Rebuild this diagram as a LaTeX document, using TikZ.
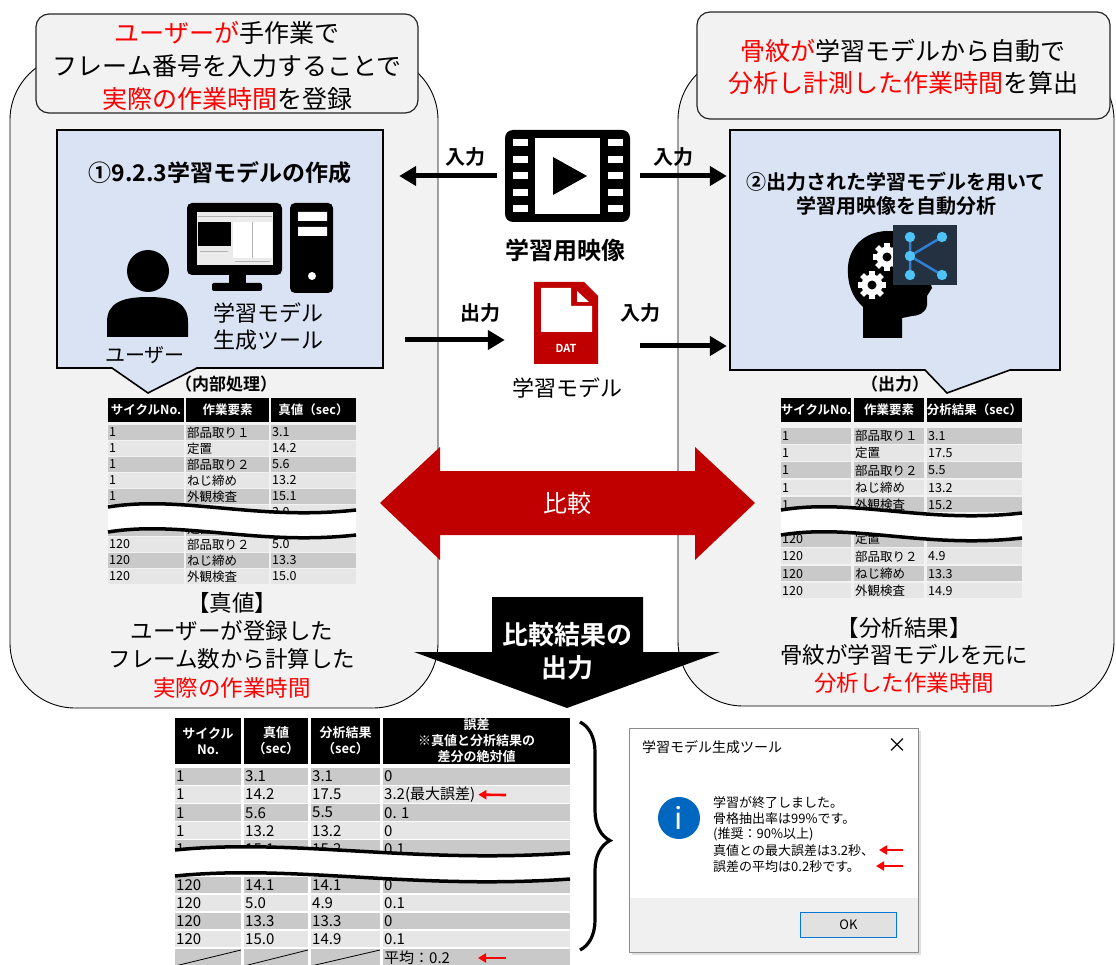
\documentclass[tikz,border=0pt]{standalone}
\usepackage{fontspec}
\setmainfont{Noto Sans CJK JP}[BoldFont={Noto Sans CJK JP Bold}]
\usetikzlibrary{arrows.meta,decorations.pathreplacing}

\definecolor{panelgray}{HTML}{F2F2F2}
\definecolor{boxblue}{HTML}{DAE3F3}
\definecolor{darkred}{HTML}{C00000}
\definecolor{rowdk}{HTML}{C9C9C9}
\definecolor{rowlt}{HTML}{E6E6E6}
\definecolor{infoblue}{HTML}{0067C0}
\definecolor{okblue}{HTML}{0078D7}
\definecolor{btngray}{HTML}{E1E1E1}
\definecolor{dlggray}{HTML}{F0F0F0}
\definecolor{kbg}{HTML}{243140}
\definecolor{kdot}{HTML}{4FC3F7}
\definecolor{kline}{HTML}{2F80D0}

\newcommand{\fsz}[1]{\fontsize{#1}{#1}\selectfont}
% white break across a long table, wavy edges
\newcommand{\wavecut}[4]{%
  \fill[white] (#1,#3) .. controls ({#1+0.3*(#2-#1)},{#3-12}) and ({#1+0.6*(#2-#1)},{#3+14}) .. (#2,{#3+3})
    -- (#2,{#3+3+#4}) .. controls ({#1+0.6*(#2-#1)},{#3+14+#4}) and ({#1+0.3*(#2-#1)},{#3-12+#4}) .. (#1,{#3+#4}) -- cycle;
  \draw[line width=3.5pt] (#1,#3) .. controls ({#1+0.3*(#2-#1)},{#3-12}) and ({#1+0.6*(#2-#1)},{#3+14}) .. (#2,{#3+3});
  \draw[line width=3.5pt] (#1,{#3+#4}) .. controls ({#1+0.3*(#2-#1)},{#3-12+#4}) and ({#1+0.6*(#2-#1)},{#3+14+#4}) .. (#2,{#3+3+#4});
}
% gear inside the head
\newcommand{\gear}[2]{%
  \foreach \a in {0,45,90,135}
    \fill[white, rotate around={\a:(#1,#2)}] ({#1-2.8},{#2-14}) rectangle ({#1+2.8},{#2+14});
  \fill[white] (#1,#2) circle (10.5);
  \fill[black] (#1,#2) circle (4.5);
}

\begin{document}
\begin{tikzpicture}[x=1pt, y=-1pt,
  panel/.style={draw=black, line width=0.9pt, fill=panelgray, rounded corners=65pt},
  callout/.style={draw=black!85, line width=1.2pt, fill=panelgray, rounded corners=13pt},
  bluebox/.style={draw=black, line width=1.6pt, fill=boxblue},
  flow/.style={line width=5pt, -{Triangle[length=17pt,width=19pt]}},
  redptr/.style={red, line width=2.6pt, -{Triangle[length=8pt,width=9pt]}},
  txt/.style={inner sep=0pt, align=center},
  hdrcell/.style={fill=black, text=white, inner sep=0pt, align=center},
  cell/.style={anchor=west, inner sep=0pt, font=\fsz{12.5}},
  bcell/.style={anchor=west, inner sep=0pt, font=\fsz{15}},
]
\useasboundingbox (0,0) rectangle (1116,965);
\fill[white] (0,0) rectangle (1116,965);

% Gray panels
\draw[panel] (10,55) rectangle (438,708);
\draw[panel] (678,55) rectangle (1114,706);

% Callouts
\draw[callout] (36,14) rectangle (418,113);
\node[txt, font=\fontsize{25}{33}\selectfont] (noteL) at (227,66)
  {\textcolor{red}{ユーザーが}手作業で\\フレーム番号を入力することで\\\textcolor{red}{実際の作業時間}を登録};
\draw[callout] (697,12) rectangle (1110,119);
\node[txt, font=\fontsize{25}{32}\selectfont] (noteR) at (903,67)
  {\textcolor{red}{骨紋が}学習モデルから自動で\\\textcolor{red}{分析し計測した作業時間}を算出};

% Blue boxes with tails
\draw[bluebox] (57,130) -- (383,130) -- (383,368) -- (197,368) -- (148,393) -- (112,368) -- (57,368) -- cycle;
\node[inner sep=0, minimum width=326, minimum height=238] (box1) at (220,249) {};
\draw[bluebox] (730,130) -- (1060,130) -- (1060,370) -- (1010,370) -- (947,393) -- (925,370) -- (730,370) -- cycle;
\node[inner sep=0, minimum width=330, minimum height=240] (box2) at (895,250) {};

\node[txt, font=\bfseries\fsz{23}] (title1) at (220,173) {①9.2.3学習モデルの作成};
\node[txt, font=\bfseries\fontsize{20}{24}\selectfont] (title2) at (896,194)
  {②出力された学習モデルを用いて\\学習用映像を自動分析};

% Monitor and tower
\fill[rounded corners=5pt] (187,203) rectangle (282,275);
\fill[black!8] (197,212) rectangle (273,265);
\fill (198,222) rectangle (231,246);
\fill[white] (233,222) rectangle (272,258);
\draw[gray!60, line width=0.4pt] (198,216) -- (272,216) (252,222) -- (252,258) (200,251) -- (228,251) (235,261) -- (270,261);
\fill (229,274) rectangle (246,284);
\fill[rounded corners=2pt] (212,283) rectangle (262,291);
\fill[rounded corners=5pt] (290,203) rectangle (333,293);
\fill[white] (298,212) rectangle (327,221) (298,227) rectangle (327,236);
\fill[white] (312,276) circle (4);

% User
\fill (148,271) circle (21);
\fill (107,337) -- (107,322) .. controls (107,303) and (122,297) .. (148,297)
  .. controls (174,297) and (188,303) .. (188,322) -- (188,337) -- cycle;
\node[txt, font=\fsz{20}] (user) at (145,355) {ユーザー};
\node[txt, font=\fontsize{22}{27}\selectfont] (tool) at (268,327) {学習モデル\\生成ツール};

% Head with gears and graph tile
\fill (863,338) -- (863,307) .. controls (852,297) and (847,284) .. (848,266)
  .. controls (850,245) and (866,232) .. (886,231) .. controls (910,230) and (926,246) .. (926,268)
  -- (932,288) -- (927,296) -- (927,305) .. controls (926,313) and (918,316) .. (912,316)
  -- (902,318) -- (902,338) -- cycle;
\gear{887}{257}
\gear{872}{285}
\fill[kbg] (893,225) rectangle (957,285);
\draw[kline, line width=2.5pt] (910,237) -- (910,275) (910,256) -- (942,237) (910,256) -- (942,275);
\foreach \px/\py in {910/237, 942/237, 910/256, 910/275, 942/275}
  \fill[kdot] (\px,\py) circle (5.2);

% Video icon
\fill[rounded corners=8pt] (505,130) rectangle (630,222);
\fill[white] (535,138) rectangle (600,214);
\foreach \y in {143,159.5,176,192.5,209}{
  \fill[white] (513,\y-3.5) rectangle (528,\y+3.5);
  \fill[white] (608,\y-3.5) rectangle (623,\y+3.5);
}
\fill (553,157) -- (553,195) -- (587,176) -- cycle;
\node[inner sep=0, minimum width=125, minimum height=92] (film) at (567.5,176) {};
\node[txt, font=\bfseries\fsz{24}] (filmlbl) at (565,250) {学習用映像};

% Model file icon
\fill[darkred] (534,282) -- (584,282) -- (598,296) -- (598,364) -- (534,364) -- cycle;
\fill[white] (541,288) -- (571,288) -- (571,306) -- (592,306) -- (592,332) -- (541,332) -- cycle;
\fill[white] (577,291) -- (577,302) -- (589,302) -- cycle;
\node[text=white, font=\bfseries\fsz{11}, inner sep=0] (dattag) at (566,348) {DAT};
\node[inner sep=0, minimum width=64, minimum height=82] (datfile) at (566,323) {};
\node[txt, font=\fsz{22}] (datlbl) at (567,388) {学習モデル};

% Flows between boxes
\coordinate (m1) at (0,340);
\coordinate (m2) at (0,346);
\draw[flow, shorten <=8pt, shorten >=16pt] (film.west) -- (film.west -| box1.east);
\draw[flow, shorten <=10pt, shorten >=3pt] (film.east) -- (film.east -| box2.west);
\draw[flow, shorten <=22pt, shorten >=29pt] (box1.east |- m1) -- (datfile.west |- m1);
\draw[flow, shorten <=42pt, shorten >=3pt] (datfile.east |- m2) -- (box2.west |- m2);
\node[txt, font=\bfseries\fsz{20}] (in1) at (465,157) {入力};
\node[txt, font=\bfseries\fsz{20}] (in2) at (673,157) {入力};
\node[txt, font=\bfseries\fsz{20}] (out1) at (480,313) {出力};
\node[txt, font=\bfseries\fsz{20}] (in3) at (640,313) {入力};

% Table: true values
\node[txt, font=\bfseries\fsz{17}] (capL) at (226,384) {（内部処理）};
\foreach \xa/\xb/\t [count=\c] in {108/184/サイクルNo., 186/269/作業要素, 271/356/真値（sec）}
  \node[hdrcell, font=\bfseries\fsz{12.5}, minimum width=\xb-\xa, minimum height=24] (lh\c) at ({(\xa+\xb)/2},410) {\t};
\foreach \k in {0,...,9}{
  \ifodd\k\relax \def\rc{rowlt}\else\def\rc{rowdk}\fi
  \foreach \xa/\xb in {108/184, 186/269, 271/356}
    \fill[\rc] (\xa,425+16*\k) rectangle (\xb,439.5+16*\k);
}
\foreach \k/\a/\b/\v in {0/1/部品取り１/3.1, 1/1/定置/14.2, 2/1/部品取り２/5.6, 3/1/ねじ締め/13.2,
    4/1/外観検査/15.1, 5/{}/{}/3.0, 6/{}/定置/{}, 7/120/部品取り２/5.0, 8/120/ねじ締め/13.3, 9/120/外観検査/15.0}{
  \node[cell] (la\k) at (109,432.5+16*\k) {\a};
  \node[cell] (lb\k) at (187,432.5+16*\k) {\b};
  \node[cell] (lc\k) at (272,432.5+16*\k) {\v};
}
\wavecut{108}{356}{507}{25}

% Table: analysis output
\node[txt, font=\bfseries\fsz{17}] (capR) at (895,384) {（出力）};
\foreach \xa/\xb/\t [count=\c] in {781/851/サイクルNo., 854/924/作業要素, 927/1022/分析結果（sec）}
  \node[hdrcell, font=\bfseries\fsz{12.5}, minimum width=\xb-\xa, minimum height=24] (rh\c) at ({(\xa+\xb)/2},410) {\t};
\foreach \k in {0,...,9}{
  \ifodd\k\relax \def\rc{rowlt}\else\def\rc{rowdk}\fi
  \foreach \xa/\xb in {781/851, 854/924, 927/1022}
    \fill[\rc] (\xa,428+17.2*\k) rectangle (\xb,443.5+17.2*\k);
}
\foreach \k/\a/\b/\v in {0/1/部品取り１/3.1, 1/1/定置/17.5, 2/1/部品取り２/5.5, 3/1/ねじ締め/13.2,
    4/1/外観検査/15.2, 5/{}/{}/3.0, 6/120/定置/{}, 7/120/部品取り２/4.9, 8/120/ねじ締め/13.3, 9/120/外観検査/14.9}{
  \node[cell] (ra\k) at (782,436+17.2*\k) {\a};
  \node[cell] (rb\k) at (855,436+17.2*\k) {\b};
  \node[cell] (rc\k) at (928,436+17.2*\k) {\v};
}
\wavecut{781}{1022}{510}{25}

% Captions under the tables
\node[txt, font=\fontsize{22.5}{28.3}\selectfont] (sumL) at (232,645)
  {【真値】\\ユーザーが登録した\\フレーム数から計算した\\\textcolor{red}{実際の作業時間}};
\node[txt, font=\fontsize{22.5}{27.5}\selectfont] (sumR) at (904,655)
  {【分析結果】\\骨紋が学習モデルを元に\\\textcolor{red}{分析した作業時間}};

% Comparison arrow
\fill[darkred] (380,503) -- (440,447) -- (440,471) -- (695,471) -- (695,447) -- (755,503)
  -- (695,560) -- (695,535) -- (440,535) -- (440,560) -- cycle;
\node[txt, text=white, font=\fsz{24}] (cmp) at (567,503) {比較};

% Result arrow
\fill (492,597) -- (643,597) -- (643,652) -- (720,652) -- (567,708) -- (414,652) -- (492,652) -- cycle;
\node[txt, text=white, font=\bfseries\fontsize{26}{33}\selectfont] (cmpout) at (567,651) {比較結果の\\出力};

% Table: error per element
\foreach \xa/\xb/\t [count=\c] in {175/241/サイクル\\No., 244/308/真値\\（sec）, 311/380/分析結果\\（sec）,
    383/570/誤差\\※真値と分析結果の\\差分の絶対値}
  \node[hdrcell, font=\bfseries\fontsize{13}{16}\selectfont, minimum width=\xb-\xa, minimum height=46] (bh\c) at ({(\xa+\xb)/2},741) {\t};
\foreach \k in {0,...,10}{
  \ifodd\k\relax \def\rc{rowlt}\else\def\rc{rowdk}\fi
  \foreach \xa/\xb in {175/241, 244/308, 311/380, 383/570}
    \fill[\rc] (\xa,768+18.1*\k) rectangle (\xb,784.5+18.1*\k);
}
\foreach \k/\a/\b/\c/\d in {0/1/3.1/3.1/0, 1/1/14.2/17.5/3.2(最大誤差), 2/1/5.6/5.5/0. 1, 3/1/13.2/13.2/0,
    4/1/15.1/15.2/0.1, 6/120/14.1/14.1/0, 7/120/5.0/4.9/0.1, 8/120/13.3/13.3/0, 9/120/15.0/14.9/0.1, 10/{}/{}/{}/平均：0.2}{
  \node[bcell] (ba\k) at (176,776.5+18.1*\k) {\a};
  \node[bcell] (bb\k) at (245,776.5+18.1*\k) {\b};
  \node[bcell] (bc\k) at (312,776.5+18.1*\k) {\c};
  \node[bcell] (bd\k) at (384,776.5+18.1*\k) {\d};
}
\foreach \xa/\xb in {175/241, 244/308, 311/380}
  \draw[line width=0.8pt] (\xa,966) -- (\xb,950);
\wavecut{175}{570}{850}{26}
\coordinate (e1) at (506,795);
\coordinate (e2) at (506,958);
\coordinate (e2t) at (478,958);
\draw[redptr, shorten >=3pt] (e1) -- (bd1.east);
\draw[redptr] (e2) -- (e2t);

% Brace to the dialog
\draw[line width=3.2pt, decorate, decoration={brace, amplitude=30pt, aspect=0.52}] (580,722) -- (580,950);

% Dialog window
\fill[black!12] (632,731) rectangle (921,955);
\draw[black!45, fill=white] (629,728) rectangle (918,952);
\fill[dlggray] (629.5,898) rectangle (917.5,951.5);
\node[anchor=west, inner sep=0, font=\fsz{14}] (dlgtitle) at (642,747) {学習モデル生成ツール};
\node[inner sep=0, font=\fsz{20}] (dlgclose) at (897,746) {×};
\node[circle, fill=infoblue, minimum size=42, inner sep=0, text=white, font=\fsz{30}] (info) at (679,818) {i};
\foreach \t [count=\i from 0] in {学習が終了しました。, 骨格抽出率は99\%です。, (推奨：90\%以上),
    真値との最大誤差は3.2秒、, 誤差の平均は0.2秒です。}
  \node[anchor=west, inner sep=0, font=\fsz{13}] (msg\i) at (713,803+15.8*\i) {\t};
\coordinate (r3) at (903,850);
\coordinate (r3t) at (879,850);
\coordinate (r4) at (903,866);
\coordinate (r4t) at (876,866);
\draw[redptr] (r3) -- (r3t);
\draw[redptr] (r4) -- (r4t);
\node[draw=okblue, line width=1.8pt, fill=btngray, minimum width=96, minimum height=25, inner sep=0, font=\fsz{13}] (okbtn) at (848.5,925) {OK};
\end{tikzpicture}
\end{document}
